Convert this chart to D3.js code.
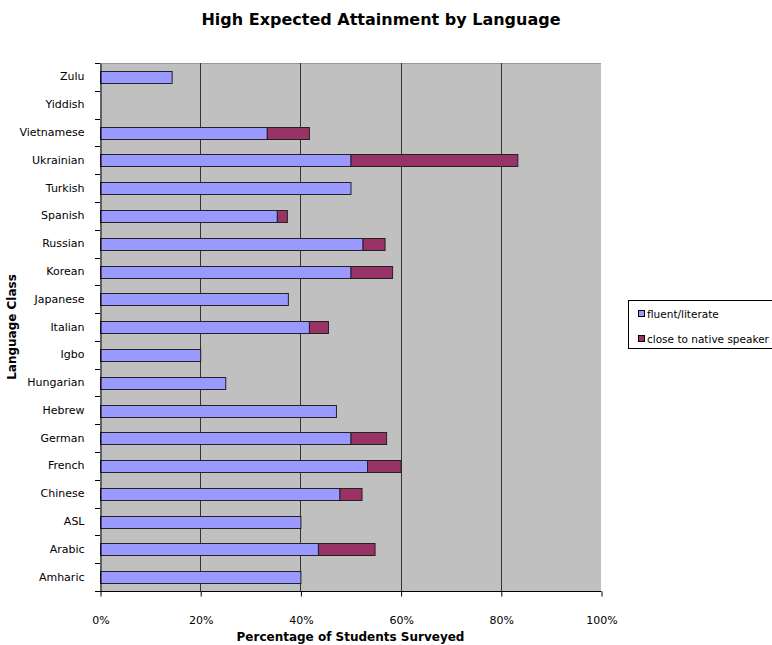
<!DOCTYPE html>
<html>
<head>
<meta charset="utf-8">
<script src="https://cdn.jsdelivr.net/npm/d3@7"></script>
<style>
  body { margin: 0; background: #fff; }
  svg { display: block; font-family: "DejaVu Sans", sans-serif; }
</style>
</head>
<body>
<svg></svg>
<script>
const languages = ["Amharic", "Arabic", "ASL", "Chinese", "French", "German", "Hebrew", "Hungarian", "Igbo",
  "Italian", "Japanese", "Korean", "Russian", "Spanish", "Turkish", "Ukrainian", "Vietnamese", "Yiddish", "Zulu"];
const fluent = [40, 43.5, 40, 47.8, 53.3, 50, 47.1, 25, 20, 41.7, 37.5, 50, 52.4, 35.3, 50, 50, 33.3, 0, 14.3];
const nativeSpeaker = [0, 11.3, 0, 4.4, 6.7, 7.1, 0, 0, 0, 3.8, 0, 8.3, 4.4, 2.0, 0, 33.3, 8.4, 0, 0];
const xTicks = [0, 20, 40, 60, 80, 100];
const seriesNames = ["fluent/literate", "close to native speaker"];
const colors = ["#9999FF", "#993366"];

const width = 772;
const height = 645;
const padLeft = 100, padRight = 601, padTop = 63, padBottom = 591;

const rows = languages.map((d, i) => ({lang: d, fluent: fluent[i], native: nativeSpeaker[i]}));

const svg = d3.select("svg")
  .attr("width", width)
  .attr("height", height);

const xScale = d3.scaleLinear()
  .domain([0, 100])
  .range([padLeft, padRight]);

const yScale = d3.scaleBand()
  .domain(languages.slice().reverse())
  .range([padTop, padBottom])
  .padding(0);

// plot background
svg.append("rect")
  .attr("x", padLeft).attr("y", padTop)
  .attr("width", padRight - padLeft).attr("height", padBottom - padTop)
  .attr("fill", "#C0C0C0");

svg.append("line")
  .attr("x1", padLeft).attr("x2", padRight)
  .attr("y1", padTop + 0.5).attr("y2", padTop + 0.5)
  .attr("stroke", "#999");

// gridlines
svg.append("g")
  .selectAll("line")
  .data(xTicks.filter(d => d > 0 && d < 100))
  .enter()
  .append("line")
  .attr("x1", d => Math.round(xScale(d)) + 0.5)
  .attr("x2", d => Math.round(xScale(d)) + 0.5)
  .attr("y1", padTop).attr("y2", padBottom)
  .attr("stroke", "#333");

// bars
const stack = d3.stack().keys(["fluent", "native"])(rows);
const bh = yScale.bandwidth() * 0.42;

svg.append("g")
  .selectAll("g")
  .data(stack)
  .enter()
  .append("g")
  .attr("fill", (d, i) => colors[i])
  .selectAll("rect")
  .data(d => d.filter(p => p[1] - p[0] > 0))
  .enter()
  .append("rect")
  .attr("x", d => xScale(d[0]) + 0.5)
  .attr("y", d => Math.round(yScale(d.data.lang) + (yScale.bandwidth() - bh) / 2) + 0.5)
  .attr("width", d => xScale(d[1]) - xScale(d[0]))
  .attr("height", Math.round(bh))
  .attr("stroke", "#222")
  .attr("stroke-width", 1);

// x axis
const xAxis = d3.axisBottom(xScale)
  .tickValues(xTicks)
  .tickSize(5)
  .tickPadding(20)
  .tickFormat(d => d + "%");

svg.append("g")
  .attr("transform", `translate(0.5,${padBottom + 0.5})`)
  .call(xAxis)
  .call(g => g.select(".domain").attr("stroke", "#000").attr("d", `M${padLeft - 0.5},0H${padRight}`))
  .call(g => g.selectAll("text").attr("font-size", 11).attr("font-family", "DejaVu Sans").attr("fill", "#000"));

// y axis: labels at band centres, ticks at band edges
const yAxis = d3.axisLeft(yScale)
  .tickSize(0)
  .tickPadding(16);

svg.append("g")
  .attr("transform", `translate(${padLeft + 0.5},0)`)
  .call(yAxis)
  .call(g => g.select(".domain").attr("stroke", "#000"))
  .call(g => g.selectAll("text").attr("font-size", 11).attr("font-family", "DejaVu Sans").attr("fill", "#000"));

svg.append("g")
  .selectAll("line")
  .data(yScale.domain())
  .enter()
  .append("line")
  .attr("x1", padLeft - 5).attr("x2", padLeft)
  .attr("y1", d => Math.round(yScale(d)) + 0.5)
  .attr("y2", d => Math.round(yScale(d)) + 0.5)
  .attr("stroke", "#000");

svg.append("line")
  .attr("x1", padLeft - 5).attr("x2", padLeft)
  .attr("y1", padBottom + 0.5).attr("y2", padBottom + 0.5)
  .attr("stroke", "#000");

// titles
svg.append("text")
  .attr("x", 381).attr("y", 25)
  .attr("text-anchor", "middle")
  .attr("font-size", 16)
  .attr("font-weight", "bold")
  .text("High Expected Attainment by Language");

svg.append("text")
  .attr("x", (padLeft + padRight) / 2).attr("y", 641)
  .attr("text-anchor", "middle")
  .attr("font-size", 12)
  .attr("font-weight", "bold")
  .text("Percentage of Students Surveyed");

svg.append("text")
  .attr("transform", `translate(16,${(padTop + padBottom) / 2}) rotate(-90)`)
  .attr("text-anchor", "middle")
  .attr("font-size", 12)
  .attr("font-weight", "bold")
  .text("Language Class");

// legend
const legend = svg.append("g");
legend.append("rect")
  .attr("x", 628.5).attr("y", 300.5)
  .attr("width", 150).attr("height", 48)
  .attr("fill", "#fff")
  .attr("stroke", "#000");

const items = legend.selectAll("g.item")
  .data(seriesNames)
  .enter()
  .append("g")
  .attr("transform", (d, i) => `translate(638,${314 + i * 25})`);

items.append("rect")
  .attr("x", 0.5).attr("y", -3.5)
  .attr("width", 6).attr("height", 6)
  .attr("fill", (d, i) => colors[i])
  .attr("stroke", "#000");

items.append("text")
  .attr("x", 9).attr("y", 4)
  .attr("font-size", 10.5)
  .text(d => d);
</script>
</body>
</html>
